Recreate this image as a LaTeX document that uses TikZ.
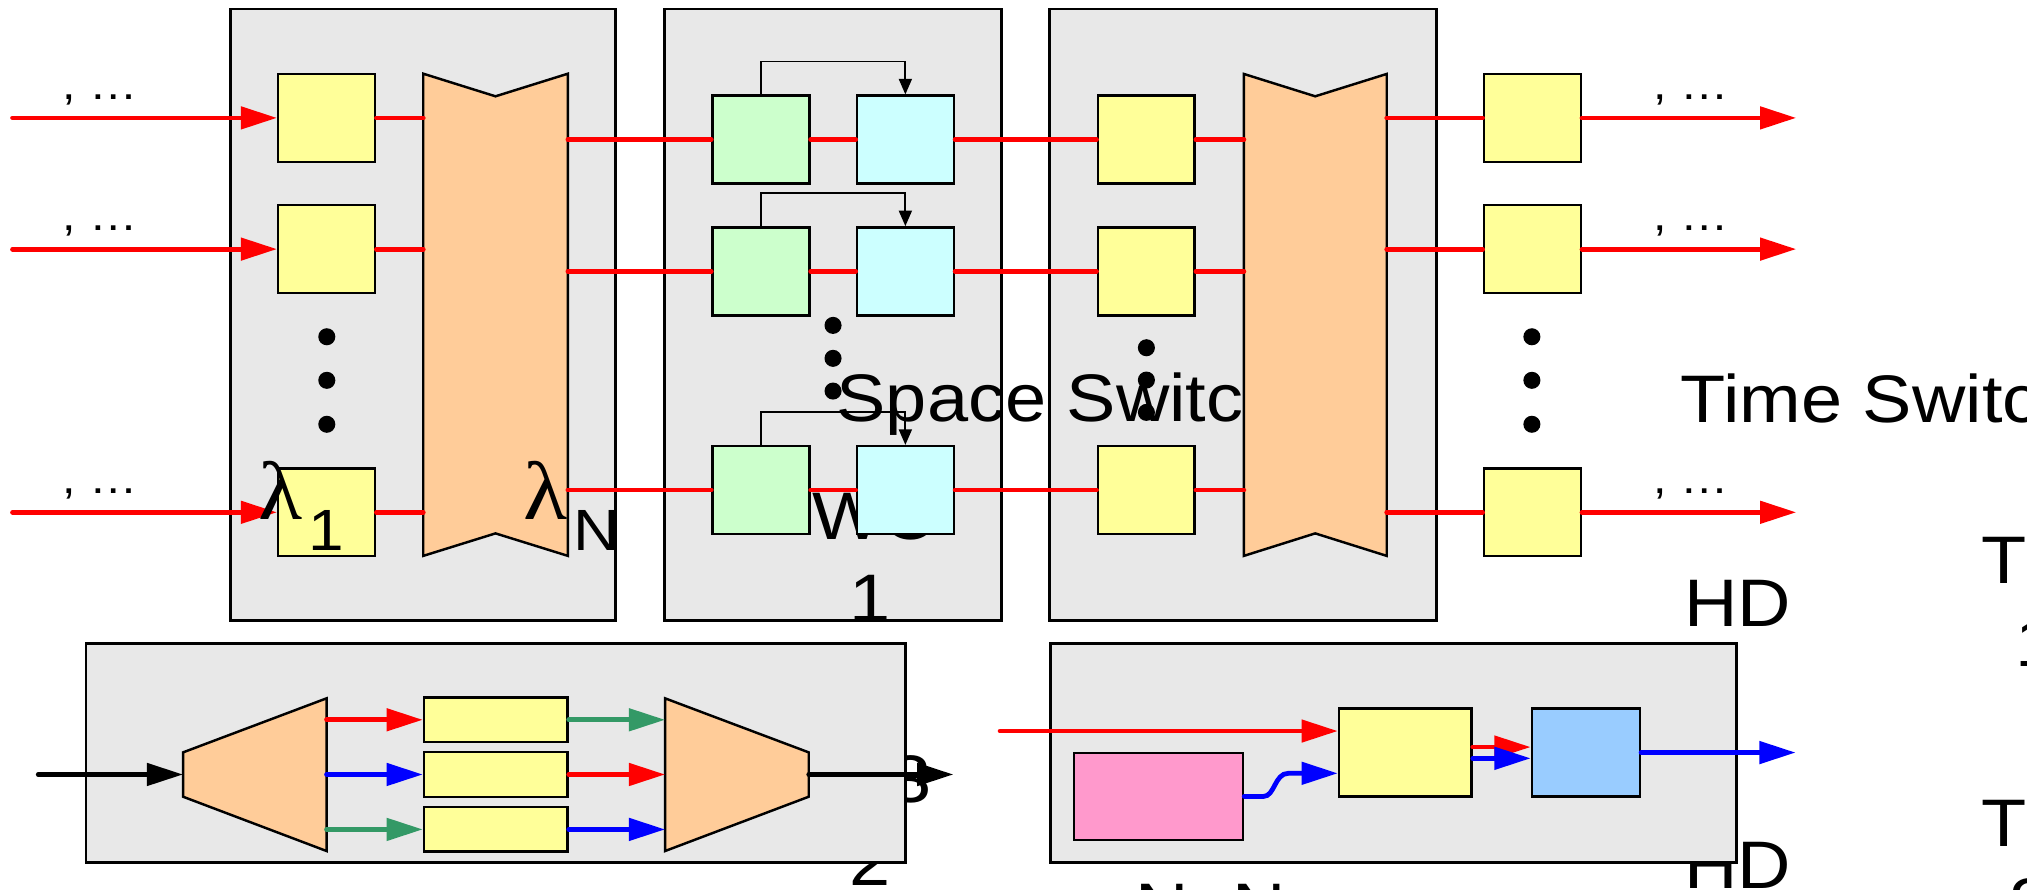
\documentclass[tikz,border=0pt]{standalone}
\usepackage{fontspec}
\setmainfont{Liberation Sans}[FakeStretch=1.1]
\newfontfamily\lamfont{Liberation Serif}[FakeStretch=1.1]
\usetikzlibrary{arrows.meta}
\definecolor{panelgray}{HTML}{E8E8E8}
\definecolor{yel}{HTML}{FFFF99}
\definecolor{org}{HTML}{FFCC99}
\definecolor{grn}{HTML}{CCFFCC}
\definecolor{cyn}{HTML}{CCFFFF}
\definecolor{pnk}{HTML}{FF99CC}
\definecolor{lblue}{HTML}{99CCFF}
\definecolor{dgreen}{HTML}{339966}
\newcommand\bigtxt{\fontsize{52pt}{60pt}\selectfont}
\newcommand\smtxt{\fontsize{34pt}{40pt}\selectfont}
\newcommand\subtxt{\fontsize{45pt}{50pt}\selectfont}
\newcommand\lamtxt{\lamfont\fontsize{64pt}{70pt}\selectfont}
\tikzset{
  panel/.style={draw=black, line width=2.2pt, fill=panelgray, rectangle, inner sep=0pt},
  sq/.style={draw=black, line width=1.9pt, rectangle, inner sep=0pt, minimum width=75pt, minimum height=68pt},
  ybox/.style={sq, fill=yel},
  gbox/.style={sq, fill=grn},
  cbox/.style={sq, fill=cyn},
  ybar/.style={sq, fill=yel, minimum width=111pt, minimum height=34.5pt},
  shp/.style={draw=black, line width=1.9pt, fill=org, line join=miter},
  redl/.style={draw=red, line width=3.7pt, line cap=round},
  bluel/.style={draw=blue, line width=3.7pt, line cap=round},
  greenl/.style={draw=dgreen, line width=3.7pt, line cap=round},
  blackl/.style={draw=black, line width=3.7pt, line cap=round},
  arr/.style={-{Triangle[length=28pt,width=17pt]}},
  fb/.style={draw=black, line width=1.5pt, -{Triangle[length=12pt,width=10pt]}},
  dotn/.style={fill=black, circle, inner sep=0pt, minimum size=13.2pt},
  txt/.style={inner sep=0pt, anchor=base west, font=\bigtxt},
  lab/.style={inner sep=0pt, anchor=base west, font=\smtxt},
  subl/.style={inner sep=0pt, anchor=base west, font=\subtxt},
  laml/.style={inner sep=0pt, anchor=base west, font=\lamtxt}
}
\begin{document}
\begin{tikzpicture}[x=1pt,y=-1pt]
\useasboundingbox (0,0) rectangle (1568,688);
\clip (0,0) rectangle (1568,688);

% texts partly hidden by panels
\node[txt] (t3) at (688.7,620.5) {3};
\node[txt] (t2b) at (657,685) {2};
\node[txt] (hd2) at (1302.5,687.2) {HD};

% panels
\node[panel, minimum width=298pt, minimum height=473pt] (pA) at (327,243.5) {};
\node[panel, minimum width=261pt, minimum height=473pt] (pB) at (644.5,243.5) {};
\node[panel, minimum width=299pt, minimum height=473pt] (pC) at (961.5,243.5) {};
\node[panel, minimum width=634pt, minimum height=169.3pt] (pD) at (383.5,582.35) {};
\node[panel, minimum width=531pt, minimum height=169.3pt] (pE) at (1078,582.35) {};

% texts behind elements
\node[txt] (wc) at (628.6,417.7) {WC};
\node[txt] (one) at (657,481) {1};
\node[txt] (ss) at (647,326.2) {Space Switch};
\node[txt] (ts) at (1300,327) {Time Switch};
\node[txt] (hd1) at (1302.5,484.3) {HD};
\node[txt] (tA) at (1532.7,451) {T};
\node[txt] (tA1) at (1558.8,515.5) {1};
\node[txt] (tB) at (1532.7,655) {T};
\node[txt] (tB2) at (1554,715.7) {2};
\node[txt] (nn) at (878.4,720) {N×N};

% rows of the top part
\foreach \i/\y/\m in {1/91.2/108, 2/192.7/209.9, 3/396.3/379.1} {
  \node[ybox] (ya\i) at (252.75,\y) {};
  \node[gbox] (g\i) at (588.65,\m) {};
  \node[cbox] (c\i) at (700.35,\m) {};
  \node[ybox] (yc\i) at (886.65,\m) {};
  \node[ybox] (yo\i) at (1185.3,\y) {};
  \coordinate (in\i) at (9.7,\y);
  \coordinate (mAi\i) at (327.4,\y);
  \coordinate (mAo\i) at (439.3,\m);
  \coordinate (mCi\i) at (962.2,\m);
  \coordinate (mCo\i) at (1072.7,\y);
  \coordinate (out\i) at (1389.5,\y);
  \node[lab] (lin\i) at (48,\y-14.5) {, …};
  \node[lab] (lout\i) at (1279,\y-14.5) {, …};
}

% multiplexers
\draw[shp] (327.4,57) -- (383.3,74.5) -- (439.3,57) -- (439.3,430) -- (383.3,412.6) -- (327.4,430) -- cycle;
\draw[shp] (962.2,57.2) -- (1017.4,74.5) -- (1072.7,57.2) -- (1072.7,430) -- (1017.4,412.6) -- (962.2,430) -- cycle;

% dots
\foreach \x/\a/\b/\c/\n in {252.8/260.5/294.2/328.2/A, 644.4/251.7/277.2/302.5/B, 886.8/269/294/319/C, 1185/260.5/294.2/328.2/D} {
  \node[dotn] (d\n1) at (\x,\a) {};
  \node[dotn] (d\n2) at (\x,\b) {};
  \node[dotn] (d\n3) at (\x,\c) {};
}

% connectors of the top part
\foreach \i in {1,2,3} {
  \draw[redl, arr] (in\i) -- (ya\i.west);
  \draw[redl] (ya\i.east) -- (mAi\i);
  \draw[redl] (mAo\i) -- (g\i.west);
  \draw[redl] (g\i.east) -- (c\i.west);
  \draw[redl] (c\i.east) -- (yc\i.west);
  \draw[redl] (yc\i.east) -- (mCi\i);
  \draw[redl] (mCo\i) -- (yo\i.west);
  \draw[redl, arr] (yo\i.east) -- (out\i);
  \draw[fb] (g\i.north) -- ++(0,-25.5) -| (c\i.north);
}

% bottom left panel
\draw[shp] (141.6,582) -- (252.6,540.2) -- (252.6,658.3) -- (141.6,616.3) -- cycle;
\draw[shp] (514.5,540.2) -- (625.6,582) -- (625.6,616.3) -- (514.5,658.3) -- cycle;
\node[ybar] (yd1) at (383.5,556.8) {};
\node[ybar] (yd2) at (383.5,599.1) {};
\node[ybar] (yd3) at (383.5,641.6) {};
\coordinate (dIn) at (29.6,599.1);
\coordinate (dmL) at (141.6,599.1);
\coordinate (dmR1) at (252.6,556.8);
\coordinate (dmR2) at (252.6,599.1);
\coordinate (dmR3) at (252.6,641.6);
\coordinate (mxL1) at (514.5,556.8);
\coordinate (mxL2) at (514.5,599.1);
\coordinate (mxL3) at (514.5,641.6);
\coordinate (mxR) at (625.6,599.1);
\coordinate (dOut) at (737.5,599.1);
\draw[blackl, arr] (dIn) -- (dmL);
\draw[redl, arr] (dmR1) -- (yd1.west);
\draw[bluel, arr] (dmR2) -- (yd2.west);
\draw[greenl, arr] (dmR3) -- (yd3.west);
\draw[greenl, arr] (yd1.east) -- (mxL1);
\draw[redl, arr] (yd2.east) -- (mxL2);
\draw[bluel, arr] (yd3.east) -- (mxL3);
\draw[blackl, arr] (mxR) -- (dOut);

% bottom right panel
\node[sq, fill=pnk, minimum width=130.7pt, minimum height=67.5pt] (pk) at (896.15,616.05) {};
\node[sq, fill=yel, minimum width=102.5pt, minimum height=68.3pt] (ye) at (1087.05,582.15) {};
\node[sq, fill=lblue, minimum width=83.5pt, minimum height=68.3pt] (bl) at (1226.75,582.15) {};
\coordinate (rin) at (773.6,565.5);
\coordinate (bw) at (996.5,598.2);
\coordinate (bout) at (1389,582.15);
\draw[redl, arr] (rin) -- (rin -| ye.west);
\draw[bluel, arr] (pk.east) -- (977.5,616.05) .. controls (986,616.05) and (986,598.2) .. (bw) -- (bw -| ye.west);
\draw[redl, arr] ([yshift=4.25pt]ye.east) -- ([yshift=4.25pt]bl.west);
\draw[bluel, arr] ([yshift=-4.45pt]ye.east) -- ([yshift=-4.45pt]bl.west);
\draw[bluel, arr] (bl.east) -- (bout);

% lambda labels
\node[laml] (l1) at (200,402) {λ};
\node[subl] (l1s) at (238.3,425.5) {1};
\node[laml] (lN) at (405,402) {λ};
\node[subl] (lNs) at (443.2,425.5) {N};
\end{tikzpicture}
\end{document}
